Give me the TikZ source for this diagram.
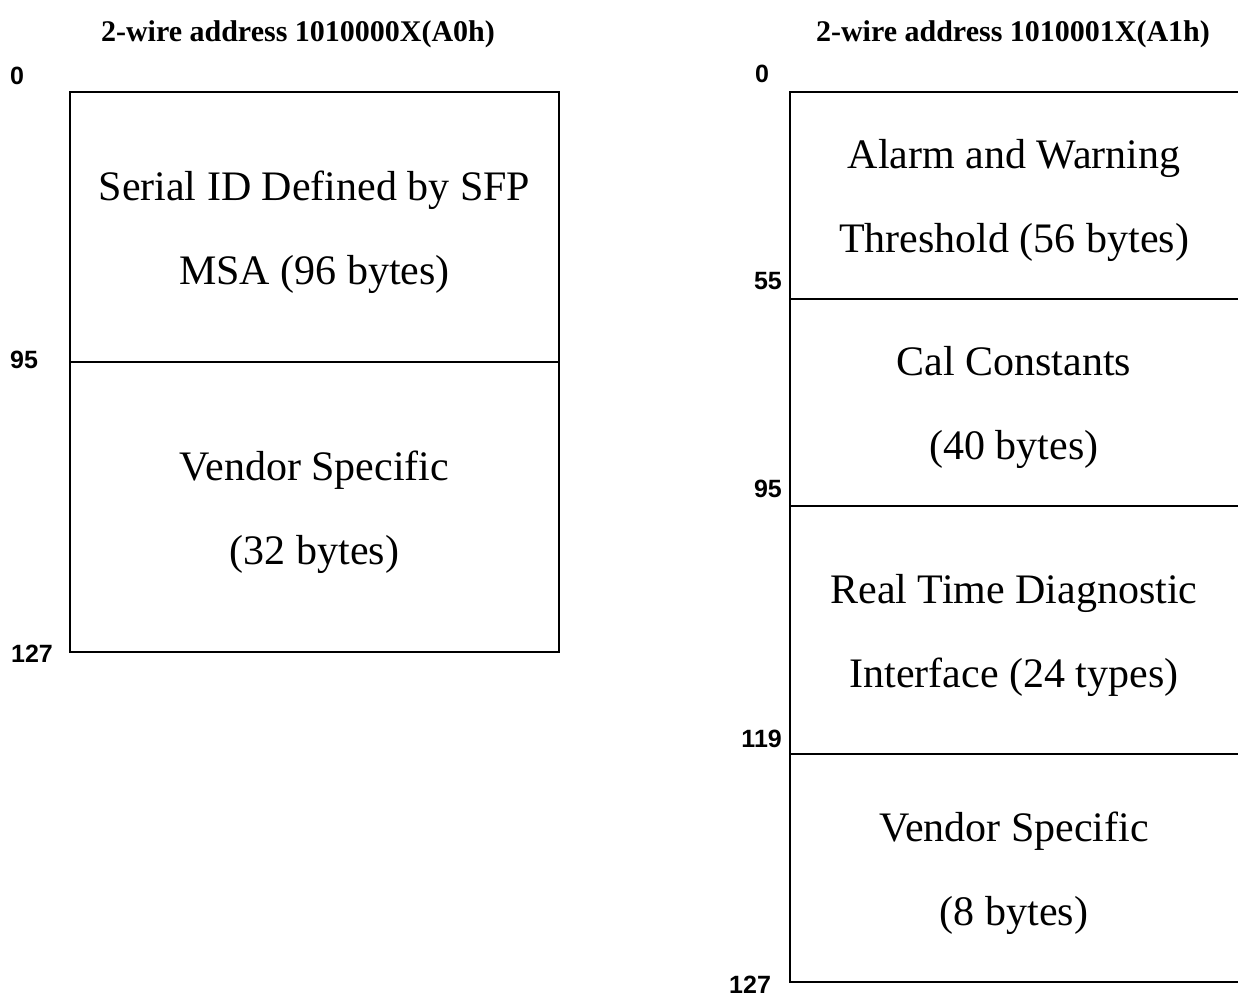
\documentclass[tikz,border=0pt]{standalone}
\usepackage{fontspec}
\setmainfont{Liberation Serif}
\newfontfamily\offsetfont{Liberation Sans}
\usetikzlibrary{positioning}
\newcommand{\celltop}{\rule{0pt}{40pt}}
\tikzset{
  memcell/.style={rectangle, inner sep=0pt, outer sep=0pt, align=center,
    font=\fontsize{42}{84}\selectfont},
  leftcell/.style={memcell, draw, line width=2.5pt, minimum width=489pt},
  rightcell/.style={memcell, minimum width=448pt},
  offs/.style={font=\offsetfont\bfseries\fontsize{25}{25}\selectfont, inner sep=0pt},
  hdr/.style={font=\bfseries\fontsize{30}{30}\selectfont, inner sep=0pt, anchor=base},
  memline/.style={line width=2.5pt}
}
\begin{document}
\begin{tikzpicture}[x=1pt, y=-1pt]
  \useasboundingbox (0,0) rectangle (1238,996);
  % address headers
  \node[hdr] (hdrA) at (298,41) {2-wire address 1010000X(A0h)};
  \node[hdr] (hdrB) at (1013,41) {2-wire address 1010001X(A1h)};
  % A0h map
  \node[leftcell, minimum height=270pt, anchor=north west] (serialid) at (70,92)
    {\celltop Serial ID Defined by SFP\\MSA (96 bytes)};
  \node[leftcell, minimum height=290pt, below=0pt of serialid] (vendorA)
    {\celltop Vendor Specific\\(32 bytes)};
  % A1h map
  \node[rightcell, minimum height=207pt, anchor=north west] (alarm) at (790,92)
    {\celltop Alarm and Warning\\Threshold (56 bytes)};
  \node[rightcell, minimum height=207pt, below=0pt of alarm] (calconst)
    {\celltop Cal Constants\\(40 bytes)};
  \node[rightcell, minimum height=248pt, below=0pt of calconst] (rtdiag)
    {\celltop Real Time Diagnostic\\Interface (24 types)};
  \node[rightcell, minimum height=228pt, below=0pt of rtdiag] (vendorB)
    {\celltop Vendor Specific\\(8 bytes)};
  \draw[memline] (alarm.north east) -- (alarm.north west) -- (vendorB.south west) -- (vendorB.south east);
  \foreach \n in {alarm, calconst, rtdiag}
    \draw[memline] (\n.south west) -- (\n.south east);
  % byte offsets
  \node[offs, anchor=base west] (a0) at (10,84) {0};
  \node[offs, anchor=base west] (a95) at (10,368) {95};
  \node[offs, anchor=base west] (a127) at (11,662) {127};
  \node[offs, anchor=base west] (b0) at (755,82) {0};
  \node[offs, anchor=base east] (b55) at (782,289) {55};
  \node[offs, anchor=base east] (b95) at (782,497) {95};
  \node[offs, anchor=base east] (b119) at (782,747) {119};
  \node[offs, anchor=base west] (b127) at (729,993) {127};
\end{tikzpicture}
\end{document}
